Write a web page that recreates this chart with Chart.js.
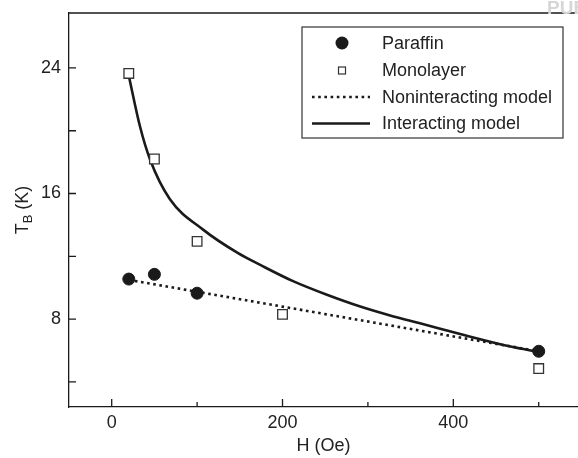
<!DOCTYPE html>
<html>
<head>
<meta charset="utf-8">
<script src="https://cdn.jsdelivr.net/npm/chart.js@4"></script>
<style>
html, body { margin: 0; padding: 0; background: #fff; }
#wrap { width: 578px; height: 458px; }
</style>
</head>
<body>
<div id="wrap"><canvas id="tb"></canvas></div>
<script>
// measured blocking temperature vs field
const paraffinH = [20, 50, 100, 500];
const paraffinTB = [10.55, 10.85, 9.65, 5.95];
const monolayerH = [20, 50, 100, 200, 500];
const monolayerTB = [23.65, 18.2, 12.95, 8.3, 4.85];
// model curves
const nonintH = [20, 500];
const nonintTB = [10.5, 5.95];
const intH = [20, 33, 45, 68, 107, 148, 174, 213, 252, 291, 330, 361, 408, 467, 500];
const intTB = [23.5, 20.3, 18.15, 15.65, 13.7, 12.2, 11.45, 10.4, 9.55, 8.8, 8.17, 7.73, 7.05, 6.25, 5.9];
// ticks
const xTicks = [0, 200, 400];
const xMinor = [100, 300, 500];
const yTicks = [8, 16, 24];
const yMinor = [4, 12, 20];

const ink = '#1a1a1a';
const font = 'Liberation Sans, Arial, Helvetica, sans-serif';

function pts(xs, ys) {
  return xs.map((v, i) => ({x: v, y: ys[i]}));
}

function noPad(s) {
  s.paddingTop = 0; s.paddingBottom = 0; s.paddingLeft = 0; s.paddingRight = 0;
}

const frame = {
  id: 'frame',
  afterDraw(chart) {
    const {ctx, chartArea: a, scales: {x, y}} = chart;
    ctx.save();
    ctx.strokeStyle = ink;
    ctx.lineWidth = 1.3;
    ctx.beginPath();
    ctx.moveTo(a.left, a.top); ctx.lineTo(a.right, a.top);
    // inward ticks
    xTicks.forEach(v => { const p = x.getPixelForValue(v); ctx.moveTo(p, a.bottom); ctx.lineTo(p, a.bottom - 8); });
    xMinor.forEach(v => { const p = x.getPixelForValue(v); ctx.moveTo(p, a.bottom); ctx.lineTo(p, a.bottom - 5); });
    yTicks.concat(yMinor).forEach(v => { const p = y.getPixelForValue(v); ctx.moveTo(a.left, p); ctx.lineTo(a.left + 7, p); });
    ctx.stroke();

    // axis titles
    ctx.fillStyle = '#222';
    ctx.textBaseline = 'middle';
    ctx.textAlign = 'center';
    ctx.font = '18px ' + font;
    ctx.fillText('H (Oe)', (a.left + a.right) / 2, 446);

    ctx.save();
    ctx.translate(22, (a.top + a.bottom) / 2);
    ctx.rotate(-Math.PI / 2);
    ctx.textAlign = 'left';
    ctx.textBaseline = 'alphabetic';
    ctx.font = '18px ' + font;
    const wT = ctx.measureText('T').width;
    ctx.font = '13px ' + font;
    const wB = ctx.measureText('B').width;
    ctx.font = '18px ' + font;
    const wK = ctx.measureText(' (K)').width;
    let sx = -(wT + wB + wK) / 2;
    ctx.fillText('T', sx, 6);
    ctx.font = '13px ' + font;
    ctx.fillText('B', sx + wT, 10);
    ctx.font = '18px ' + font;
    ctx.fillText(' (K)', sx + wT + wB, 6);
    ctx.restore();

    // legend box
    ctx.lineWidth = 1.2;
    ctx.strokeStyle = '#333';
    ctx.strokeRect(302, 27, 261, 111);
    const rows = [43, 70, 97, 123.5];
    const labels = chart.data.datasets.map(d => d.label);
    const order = ['Paraffin', 'Monolayer', 'Noninteracting model', 'Interacting model'];
    ctx.font = '18px ' + font;
    ctx.textAlign = 'left';
    ctx.textBaseline = 'middle';
    ctx.fillStyle = '#222';
    order.forEach((name, i) => {
      const ds = chart.data.datasets[labels.indexOf(name)];
      const yy = rows[i];
      ctx.fillText(name, 382, yy + 1);
      if (name === 'Paraffin') {
        ctx.fillStyle = ink;
        ctx.beginPath(); ctx.arc(342, yy, 6.5, 0, Math.PI * 2); ctx.fill();
        ctx.fillStyle = '#222';
      } else if (name === 'Monolayer') {
        ctx.strokeStyle = '#333';
        ctx.lineWidth = 1.2;
        ctx.strokeRect(338.5, yy - 3, 7, 7);
      } else {
        ctx.strokeStyle = ink;
        ctx.lineWidth = ds.borderWidth;
        ctx.setLineDash(ds.borderDash || []);
        ctx.beginPath(); ctx.moveTo(312, yy); ctx.lineTo(370, yy); ctx.stroke();
        ctx.setLineDash([]);
      }
    });

    // faint publisher mark at top right
    ctx.fillStyle = '#d6d6d6';
    ctx.font = 'bold 19px ' + font;
    ctx.textAlign = 'left';
    ctx.fillText('PUB', 547, 9);
    ctx.restore();
  }
};

new Chart(document.getElementById('tb'), {
  type: 'scatter',
  data: {
    datasets: [
      {
        label: 'Monolayer',
        data: pts(monolayerH, monolayerTB),
        pointStyle: 'rect',
        pointRadius: 6.8,
        pointHoverRadius: 6.8,
        pointBackgroundColor: '#fff',
        pointBorderColor: '#333',
        pointBorderWidth: 1.3,
        showLine: false
      },
      {
        label: 'Paraffin',
        data: pts(paraffinH, paraffinTB),
        pointStyle: 'circle',
        pointRadius: 6,
        pointHoverRadius: 6,
        pointBackgroundColor: ink,
        pointBorderColor: ink,
        showLine: false
      },
      {
        label: 'Noninteracting model',
        data: pts(nonintH, nonintTB),
        showLine: true,
        pointRadius: 0,
        borderColor: ink,
        borderWidth: 2.6,
        borderDash: [2.6, 3.6]
      },
      {
        label: 'Interacting model',
        data: pts(intH, intTB),
        showLine: true,
        pointRadius: 0,
        borderColor: ink,
        borderWidth: 2.6,
        cubicInterpolationMode: 'monotone'
      }
    ]
  },
  options: {
    responsive: true,
    maintainAspectRatio: false,
    animation: false,
    layout: { autoPadding: false, padding: { top: 13, right: 0, left: 0, bottom: 0 } },
    plugins: { legend: { display: false }, tooltip: { enabled: false } },
    scales: {
      x: {
        type: 'linear',
        min: -50,
        max: 546,
        afterBuildTicks: s => { s.ticks = xTicks.map(v => ({value: v})); },
        afterFit: s => { s.height = 51; noPad(s); },
        grid: { display: false, drawTicks: false },
        border: { display: true, color: ink, width: 1.3 },
        ticks: { color: '#222', padding: 5, font: { family: font, size: 18 } }
      },
      y: {
        type: 'linear',
        min: 2.4,
        max: 27.5,
        afterBuildTicks: s => { s.ticks = yTicks.map(v => ({value: v})); },
        afterFit: s => { s.width = 69; noPad(s); },
        grid: { display: false, drawTicks: false },
        border: { display: true, color: ink, width: 1.3 },
        ticks: { color: '#222', padding: 8, font: { family: font, size: 18 } }
      }
    }
  },
  plugins: [frame]
});
</script>
</body>
</html>
